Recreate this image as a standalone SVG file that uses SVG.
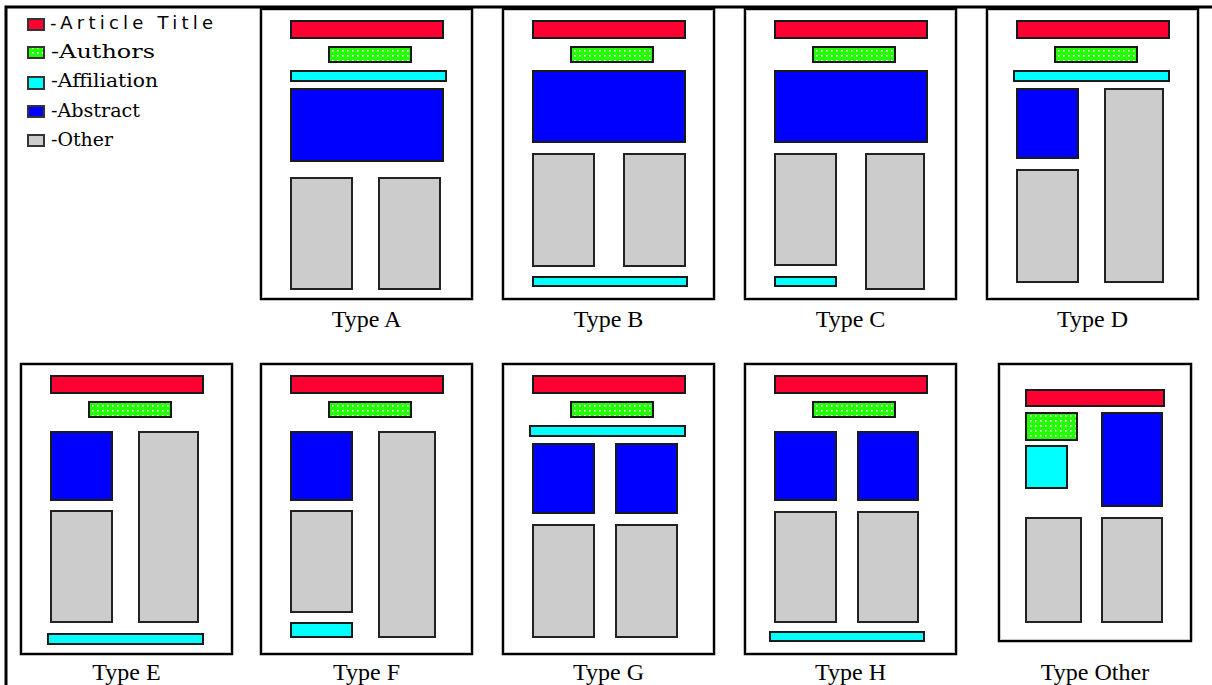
<svg xmlns="http://www.w3.org/2000/svg" width="1212" height="685" viewBox="0 0 1212 685">
<defs>
<pattern id="dots" patternUnits="userSpaceOnUse" width="5" height="5">
<rect width="5" height="5" fill="#22ff00"/>
<rect x="2" y="2" width="1.6" height="1.6" fill="#ffffff"/>
</pattern>
<style>
.page{fill:#ffffff;stroke:#000;stroke-width:2.5}
.shade{fill:none;stroke:#c8c8c8;stroke-width:1}
.t{fill:#ff0033;stroke:#1a1a1a;stroke-width:2}
.au{fill:url(#dots);stroke:#1a1a1a;stroke-width:2}
.af{fill:#00ffff;stroke:#1a1a1a;stroke-width:2}
.ab{fill:#0000ff;stroke:#1a1a1a;stroke-width:2}
.ot{fill:#cccccc;stroke:#222;stroke-width:2}
.lab{font-family:"Liberation Serif","Times New Roman",serif;font-size:24px;fill:#000;text-anchor:middle}
.leg{font-family:"DejaVu Serif","Liberation Serif",serif;font-size:19px;fill:#000}
.legs{font-family:"DejaVu Sans","Liberation Sans",sans-serif;font-size:18px;fill:#000}
.sq{stroke:#333;stroke-width:2}
</style>
</defs>
<rect width="1212" height="685" fill="#ffffff"/>
<path d="M6 685 V7 H1212" fill="none" stroke="#000" stroke-width="3"/>

<g id="legend">
<rect class="sq" x="28" y="19" width="16" height="11" fill="#ff0033"/>
<rect class="sq" x="28" y="47" width="16" height="11" fill="url(#dots)"/>
<rect class="sq" x="28" y="77" width="16" height="12" fill="#00ffff"/>
<rect class="sq" x="28" y="106" width="16" height="11" fill="#0000ff"/>
<rect class="sq" x="28" y="135" width="16" height="11" fill="#cccccc" stroke="#555"/>
<text class="legs" x="50" y="29" textLength="163" lengthAdjust="spacing">-Article Title</text>
<text class="leg" x="51" y="58" textLength="104" lengthAdjust="spacingAndGlyphs">-Authors</text>
<text class="leg" x="51" y="87" textLength="107" lengthAdjust="spacingAndGlyphs">-Affiliation</text>
<text class="leg" x="51" y="117" textLength="89" lengthAdjust="spacingAndGlyphs">-Abstract</text>
<text class="leg" x="51" y="146" textLength="62" lengthAdjust="spacingAndGlyphs">-Other</text>
</g>

<g id="type-a" transform="translate(260,8)">
<rect class="page" x="1" y="1" width="211" height="290"/>
<rect class="shade" x="2.5" y="2.5" width="208" height="287"/>
<rect class="t" x="31" y="13" width="152" height="17"/>
<rect class="au" x="69" y="39" width="82" height="15"/>
<rect class="af" x="31" y="63" width="155" height="10"/>
<rect class="ab" x="31" y="81" width="152" height="72"/>
<rect class="ot" x="31" y="170" width="61" height="111"/>
<rect class="ot" x="119" y="170" width="61" height="111"/>
<text class="lab" x="106.5" y="319">Type A</text>
</g>

<g id="type-b" transform="translate(502,8)">
<rect class="page" x="1" y="1" width="211" height="290"/>
<rect class="shade" x="2.5" y="2.5" width="208" height="287"/>
<rect class="t" x="31" y="13" width="152" height="17"/>
<rect class="au" x="69" y="39" width="82" height="15"/>
<rect class="ab" x="31" y="63" width="152" height="71"/>
<rect class="ot" x="31" y="146" width="61" height="112"/>
<rect class="ot" x="122" y="146" width="61" height="112"/>
<rect class="af" x="31" y="269" width="154" height="9"/>
<text class="lab" x="106.5" y="319">Type B</text>
</g>

<g id="type-c" transform="translate(744,8)">
<rect class="page" x="1" y="1" width="211" height="290"/>
<rect class="shade" x="2.5" y="2.5" width="208" height="287"/>
<rect class="t" x="31" y="13" width="152" height="17"/>
<rect class="au" x="69" y="39" width="82" height="15"/>
<rect class="ab" x="31" y="63" width="152" height="71"/>
<rect class="ot" x="31" y="146" width="61" height="111"/>
<rect class="af" x="31" y="269" width="61" height="9"/>
<rect class="ot" x="122" y="146" width="58" height="135"/>
<text class="lab" x="106.5" y="319">Type C</text>
</g>

<g id="type-d" transform="translate(986,8)">
<rect class="page" x="1" y="1" width="211" height="290"/>
<rect class="shade" x="2.5" y="2.5" width="208" height="287"/>
<rect class="t" x="31" y="13" width="152" height="17"/>
<rect class="au" x="69" y="39" width="82" height="15"/>
<rect class="af" x="28" y="63" width="155" height="10"/>
<rect class="ab" x="31" y="81" width="61" height="69"/>
<rect class="ot" x="31" y="162" width="61" height="112"/>
<rect class="ot" x="119" y="81" width="58" height="193"/>
<text class="lab" x="106.5" y="319">Type D</text>
</g>

<g id="type-e" transform="translate(20,363)">
<rect class="page" x="1" y="1" width="211" height="290"/>
<rect class="shade" x="2.5" y="2.5" width="208" height="287"/>
<rect class="t" x="31" y="13" width="152" height="17"/>
<rect class="au" x="69" y="39" width="82" height="15"/>
<rect class="ab" x="31" y="69" width="61" height="68"/>
<rect class="ot" x="31" y="148" width="61" height="111"/>
<rect class="ot" x="119" y="69" width="59" height="190"/>
<rect class="af" x="28" y="271" width="155" height="10"/>
<text class="lab" x="106.5" y="317">Type E</text>
</g>

<g id="type-f" transform="translate(260,363)">
<rect class="page" x="1" y="1" width="211" height="290"/>
<rect class="shade" x="2.5" y="2.5" width="208" height="287"/>
<rect class="t" x="31" y="13" width="152" height="17"/>
<rect class="au" x="69" y="39" width="82" height="15"/>
<rect class="ab" x="31" y="69" width="61" height="68"/>
<rect class="ot" x="31" y="148" width="61" height="101"/>
<rect class="af" x="31" y="260" width="61" height="14"/>
<rect class="ot" x="119" y="69" width="56" height="205"/>
<text class="lab" x="106.5" y="317">Type F</text>
</g>

<g id="type-g" transform="translate(502,363)">
<rect class="page" x="1" y="1" width="211" height="290"/>
<rect class="shade" x="2.5" y="2.5" width="208" height="287"/>
<rect class="t" x="31" y="13" width="152" height="17"/>
<rect class="au" x="69" y="39" width="82" height="15"/>
<rect class="af" x="28" y="63" width="155" height="10"/>
<rect class="ab" x="31" y="81" width="61" height="69"/>
<rect class="ab" x="114" y="81" width="61" height="69"/>
<rect class="ot" x="31" y="162" width="61" height="112"/>
<rect class="ot" x="114" y="162" width="61" height="112"/>
<text class="lab" x="106.5" y="317">Type G</text>
</g>

<g id="type-h" transform="translate(744,363)">
<rect class="page" x="1" y="1" width="211" height="290"/>
<rect class="shade" x="2.5" y="2.5" width="208" height="287"/>
<rect class="t" x="31" y="13" width="152" height="17"/>
<rect class="au" x="69" y="39" width="82" height="15"/>
<rect class="ab" x="31" y="69" width="61" height="68"/>
<rect class="ab" x="114" y="69" width="60" height="68"/>
<rect class="ot" x="31" y="149" width="61" height="110"/>
<rect class="ot" x="114" y="149" width="60" height="110"/>
<rect class="af" x="26" y="269" width="154" height="9"/>
<text class="lab" x="106.5" y="317">Type H</text>
</g>

<g id="type-other" transform="translate(998,363)">
<rect class="page" x="1" y="1" width="192" height="277"/>
<rect class="shade" x="2.5" y="2.5" width="189" height="274"/>
<rect class="t" x="28" y="27" width="138" height="16"/>
<rect class="au" x="28" y="50" width="51" height="27"/>
<rect class="af" x="28" y="83" width="41" height="42"/>
<rect class="ab" x="104" y="50" width="60" height="93"/>
<rect class="ot" x="28" y="155" width="55" height="104"/>
<rect class="ot" x="104" y="155" width="60" height="104"/>
<text class="lab" x="97" y="317">Type Other</text>
</g>

<g id="connectors"/>
</svg>
